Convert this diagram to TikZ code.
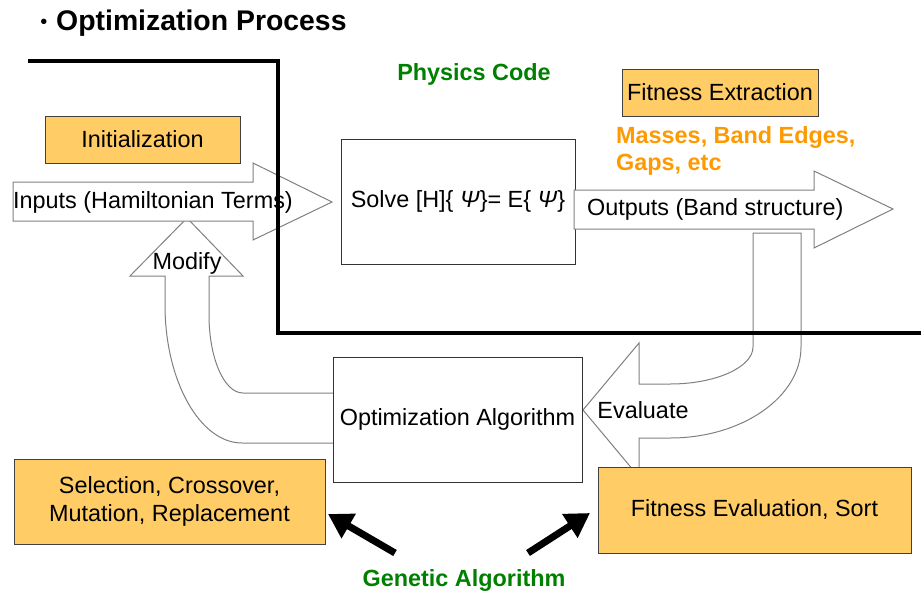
\documentclass[tikz,border=0pt]{standalone}
\usepackage{fontspec}
\setmainfont{Liberation Sans}
\usetikzlibrary{arrows.meta}
\definecolor{boxfill}{HTML}{FFCC66}
\definecolor{orangetxt}{HTML}{FF9900}
\definecolor{greentxt}{HTML}{008000}
\definecolor{arrowgray}{HTML}{808080}
\begin{document}
\begin{tikzpicture}[x=1pt,y=-1pt,
  txt/.style={font=\fontsize{23.4}{28}\selectfont, inner sep=0pt},
  boldtxt/.style={font=\fontsize{23.4}{27.5}\selectfont\bfseries, inner sep=0pt},
  gbox/.style={draw=black!75, fill=boxfill, line width=1pt, txt, align=center},
  wbox/.style={draw=black!80, fill=white, line width=1pt, txt, align=center},
  blockarrow/.style={draw=arrowgray, fill=white, line width=1pt, line join=miter},
  divider/.style={line width=4pt, line join=miter},
  bigarrow/.style={line width=7pt, -{Triangle[length=24pt,width=27pt]}},
]
\useasboundingbox (0,0) rectangle (921,592);
\fill[white] (0,0) rectangle (921,592);

% title
\node[font=\fontsize{20}{24}\selectfont, inner sep=0pt] (bullet) at (44,24) {•};
\node[font=\fontsize{28.4}{32}\selectfont\bfseries, inner sep=0pt, anchor=west] (title) at (56,23) {Optimization Process};

% Modify block arrow (U-turn, up)
\path[blockarrow] (333,393) -- (243,393) .. controls (224,393) and (209,358) .. (209,315)
  -- (209,276) -- (243,276) -- (187,218) -- (130,276) -- (165,276) -- (165,305)
  .. controls (165,381) and (200,443) .. (242,443) -- (333,443);

% Inputs block arrow
\path[blockarrow] (13,182) -- (253,182) -- (253,163) -- (332,202) -- (253,240) -- (253,221) -- (13,221) -- cycle;
\node[txt, anchor=west] (intext) at (13,202) {Inputs (Hamiltonian Terms)};
\node[txt] (modtext) at (187,263) {Modify};

% Solve box
\node[wbox, minimum width=234pt, minimum height=125pt] (solve) at (458,201.5) {Solve [H]\{ \textit{Ψ}\}= E\{ \textit{Ψ}\}};

% Outputs block arrow
\path[blockarrow] (574,190) -- (814,190) -- (814,171) -- (893,209) -- (814,248) -- (814,229) -- (574,229) -- cycle;
\node[txt, anchor=west] (outtext) at (587,209) {Outputs (Band structure)};

% Evaluate block arrow (U-turn, left)
\path[blockarrow] (753,233) -- (801,233) -- (801,347) .. controls (801,397) and (742,438) .. (670,438)
  -- (639,438) -- (639,477) -- (583,410) -- (639,343) -- (639,384) -- (670,384)
  .. controls (716,384) and (753,367) .. (753,347) -- cycle;
\node[txt] (evaltext) at (643,410) {Evaluate};

% Optimization Algorithm box
\node[wbox, minimum width=249pt, minimum height=125pt] (opt) at (457.5,419.5) {Optimization Algorithm};

% orange boxes
\node[gbox, minimum width=195pt, minimum height=47pt] (init) at (142.5,139.5) {Initialization};
\node[gbox, minimum width=196pt, minimum height=47pt] (fext) at (720,92.5) {Fitness Extraction};
\node[gbox, minimum width=311pt, minimum height=85pt] (sel) at (169.5,501.5) {Selection, Crossover,\\Mutation, Replacement};
\node[gbox, minimum width=313pt, minimum height=86pt] (feval) at (754.5,510) {Fitness Evaluation, Sort};

% coloured labels
\node[boldtxt, text=greentxt] (phys) at (474,74) {Physics Code};
\node[boldtxt, text=orangetxt, anchor=west, align=left] (masses) at (616,151) {Masses, Band Edges,\\Gaps, etc};
\node[boldtxt, text=greentxt] (ga) at (464,580) {Genetic Algorithm};

% divider line
\coordinate (d1) at (28,61);
\coordinate (d2) at (278,61);
\coordinate (d3) at (278,333);
\coordinate (d4) at (921,333);
\draw[divider] (d1) -- (d2) -- (d3) -- (d4);

% black arrows
\coordinate (g1) at (395,553);
\coordinate (t1) at (328,514);
\coordinate (g2) at (528,553);
\coordinate (t2) at (590,513);
\draw[bigarrow] (g1) -- (t1);
\draw[bigarrow] (g2) -- (t2);
\end{tikzpicture}
\end{document}
